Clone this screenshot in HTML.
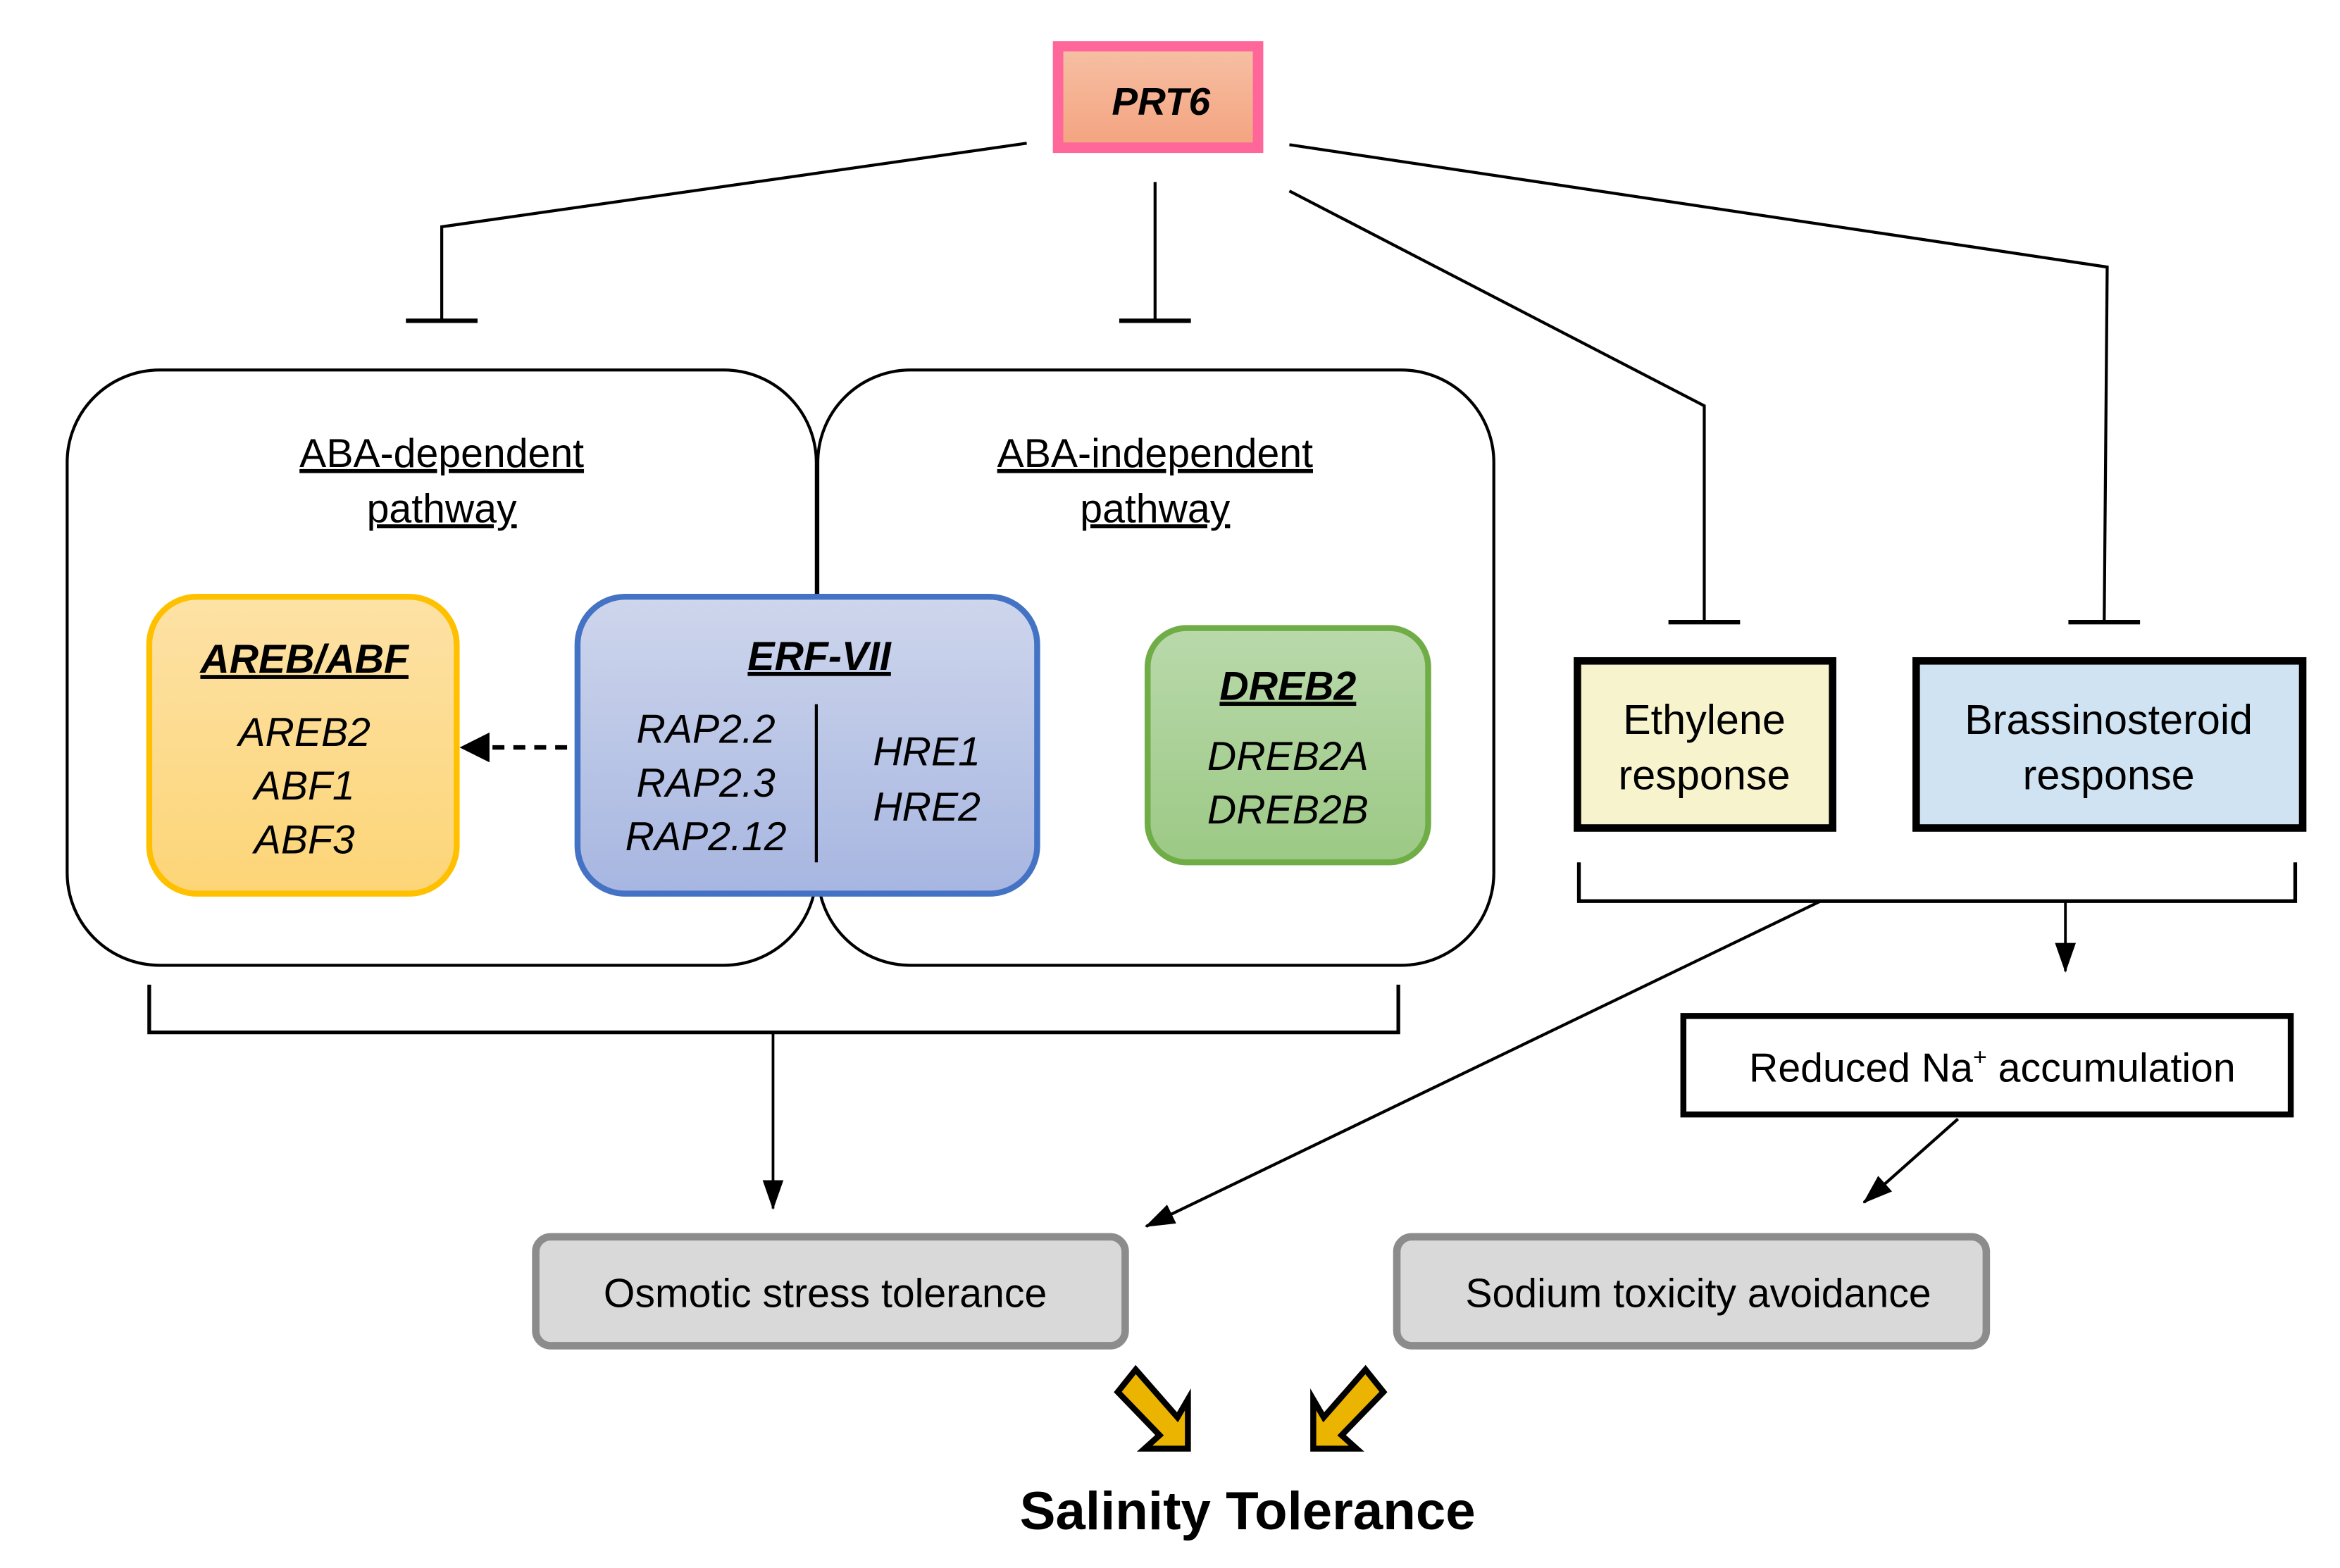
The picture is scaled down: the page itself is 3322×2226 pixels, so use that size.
<!DOCTYPE html>
<html><head><meta charset="utf-8"><style>
html,body{margin:0;padding:0;background:#fff;}
svg{display:block;}
text{font-family:"Liberation Sans",Arial,sans-serif;}
</style></head><body>
<svg width="3322" height="2226" viewBox="0 0 1568 1051" preserveAspectRatio="none" xmlns="http://www.w3.org/2000/svg" font-family="Liberation Sans, Arial, sans-serif">
<defs>
<linearGradient id="gp" x1="0" y1="0" x2="0" y2="1"><stop offset="0" stop-color="#f6c0a4"/><stop offset="1" stop-color="#f4a37f"/></linearGradient>
<linearGradient id="gy" x1="0" y1="0" x2="0" y2="1"><stop offset="0" stop-color="#fde2a6"/><stop offset="1" stop-color="#fdd577"/></linearGradient>
<linearGradient id="gb" x1="0" y1="0" x2="0" y2="1"><stop offset="0" stop-color="#ced6ec"/><stop offset="1" stop-color="#a7b6e1"/></linearGradient>
<linearGradient id="gg" x1="0" y1="0" x2="0" y2="1"><stop offset="0" stop-color="#b9d9ab"/><stop offset="1" stop-color="#9cc985"/></linearGradient>
<marker id="ah" markerWidth="20" markerHeight="14" refX="19" refY="7" orient="auto" markerUnits="userSpaceOnUse" viewBox="0 0 20 14"><path d="M0,0 L20,7 L0,14 z" fill="#000"/></marker>
</defs>
<g fill="none" stroke="#000" stroke-width="2">
<polyline points="688,96 296,152 296,215"/><line x1="272" y1="215" x2="320" y2="215" stroke-width="3"/>
<polyline points="774,122 774,215"/><line x1="750" y1="215" x2="798" y2="215" stroke-width="3"/>
<polyline points="864,128 1142,272 1142,417"/><line x1="1118" y1="417" x2="1166" y2="417" stroke-width="3"/>
<polyline points="864,97 1412,179 1410,417"/><line x1="1386" y1="417" x2="1434" y2="417" stroke-width="3"/>
<rect x="45" y="248" width="502" height="399" rx="62"/>
<rect x="548" y="248" width="453" height="399" rx="62"/>
<polyline points="100,660 100,692 937,692 937,660" stroke-width="2.5"/>
<polyline points="1058,578 1058,604 1538,604 1538,578" stroke-width="2.5"/>
<line x1="518" y1="692" x2="518" y2="810" stroke-width="1.8" marker-end="url(#ah)"/>
<line x1="1384" y1="604" x2="1384" y2="651" stroke-width="1.8" marker-end="url(#ah)"/>
<line x1="1220" y1="604" x2="768" y2="822" stroke-width="2" marker-end="url(#ah)"/>
<line x1="1312" y1="750" x2="1249" y2="806" stroke-width="2" marker-end="url(#ah)"/>
</g>
<rect x="709" y="31" width="134" height="68" fill="url(#gp)" stroke="#ff6699" stroke-width="7"/>
<text x="778" y="77" font-size="26" font-weight="bold" font-style="italic" text-anchor="middle">PRT6</text>
<g font-size="27" text-anchor="middle" text-decoration="underline">
<text x="296" y="313">ABA-dependent</text><text x="296" y="350">pathway</text>
<text x="774" y="313">ABA-independent</text><text x="774" y="350">pathway</text>
</g>
<rect x="100" y="400" width="206" height="199" rx="32" fill="url(#gy)" stroke="#ffc000" stroke-width="4"/>
<g font-size="27" font-style="italic" text-anchor="middle">
<text x="204" y="451" font-weight="bold" text-decoration="underline">AREB/ABF</text>
<text x="204" y="500">AREB2</text><text x="204" y="536">ABF1</text><text x="204" y="572">ABF3</text>
</g>
<rect x="387" y="400" width="308" height="199" rx="32" fill="url(#gb)" stroke="#4472c4" stroke-width="4"/>
<line x1="547" y1="472" x2="547" y2="578" stroke="#000" stroke-width="2"/>
<g font-size="27" font-style="italic" text-anchor="middle">
<text x="549" y="449" font-weight="bold" text-decoration="underline">ERF-VII</text>
<text x="473" y="498">RAP2.2</text><text x="473" y="534">RAP2.3</text><text x="473" y="570">RAP2.12</text>
<text x="621" y="513">HRE1</text><text x="621" y="550">HRE2</text>
</g>
<line x1="380" y1="501" x2="326" y2="501" stroke="#000" stroke-width="3" stroke-dasharray="8,6"/>
<path d="M308,501 L328,491 L328,511 z" fill="#000"/>
<rect x="769" y="421" width="188" height="157" rx="26" fill="url(#gg)" stroke="#70ad47" stroke-width="4"/>
<g font-size="27" font-style="italic" text-anchor="middle">
<text x="863" y="469" font-weight="bold" text-decoration="underline">DREB2</text>
<text x="863" y="516">DREB2A</text><text x="863" y="552">DREB2B</text>
</g>
<rect x="1057" y="443" width="171" height="112" fill="#f7f3cd" stroke="#000" stroke-width="5"/>
<text x="1142" y="492" font-size="28" text-anchor="middle">Ethylene</text>
<text x="1142" y="529" font-size="28" text-anchor="middle">response</text>
<rect x="1284" y="443" width="259" height="112" fill="#d0e3f3" stroke="#000" stroke-width="5"/>
<text x="1413" y="492" font-size="28" text-anchor="middle">Brassinosteroid</text>
<text x="1413" y="529" font-size="28" text-anchor="middle">response</text>
<rect x="1128" y="681" width="407" height="66" fill="#fff" stroke="#000" stroke-width="4"/>
<text x="1335" y="725" font-size="27" text-anchor="middle">Reduced Na<tspan font-size="16" dy="-11">+</tspan><tspan dy="11"> accumulation</tspan></text>
<rect x="359" y="829" width="395" height="73" rx="10" fill="#d9d9d9" stroke="#8c8c8c" stroke-width="5"/>
<text x="553" y="876" font-size="27" text-anchor="middle">Osmotic stress tolerance</text>
<rect x="936" y="829" width="395" height="73" rx="10" fill="#d9d9d9" stroke="#8c8c8c" stroke-width="5"/>
<text x="1138" y="876" font-size="27" text-anchor="middle">Sodium toxicity avoidance</text>
<polygon points="761,918 789,950 796,938 796,971 767,971 777,962 749,933" fill="#ebb400" stroke="#000" stroke-width="4"/>
<polygon points="915,918 887,950 880,938 880,971 909,971 899,962 927,933" fill="#ebb400" stroke="#000" stroke-width="4"/>
<text x="836" y="1025" font-size="36" font-weight="bold" text-anchor="middle">Salinity Tolerance</text>
</svg>
</body></html>
